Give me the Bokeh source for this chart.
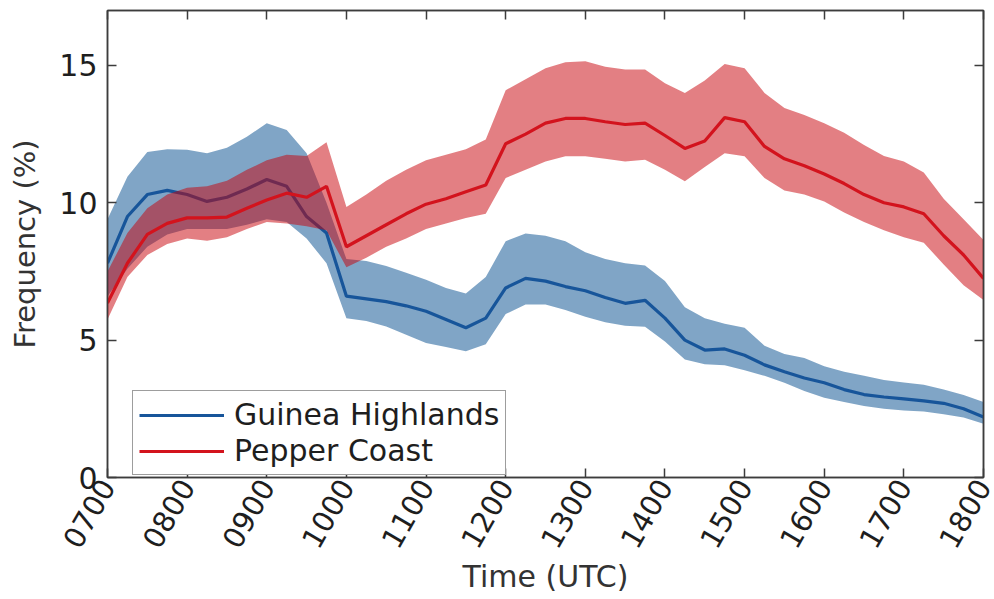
import math
from bokeh.plotting import figure
from bokeh.models import (ColumnDataSource, Range1d, FixedTicker, LinearAxis,
                          Legend, LegendItem)
from bokeh.embed import file_html
from bokeh.resources import INLINE

# Time of day in decimal hours (UTC), every 15 minutes from 0700 to 1800
times = [7.0 + 0.25 * i for i in range(45)]

# Guinea Highlands: mean frequency (%) and its uncertainty envelope
guinea_mean = [7.8, 9.5, 10.3, 10.45, 10.3, 10.05, 10.2, 10.5, 10.85, 10.6, 9.5, 8.9,
               6.6, 6.5, 6.4, 6.25, 6.05, 5.75, 5.45, 5.8, 6.9, 7.25, 7.15, 6.95,
               6.8, 6.55, 6.34, 6.45, 5.8, 5.0, 4.64, 4.68, 4.45, 4.1, 3.85, 3.62,
               3.45, 3.2, 3.02, 2.93, 2.86, 2.79, 2.7, 2.5, 2.2]
guinea_high = [9.4, 10.95, 11.85, 11.95, 11.93, 11.8, 12.0, 12.4, 12.9, 12.65, 11.8, 10.0,
               7.95, 7.88, 7.7, 7.45, 7.2, 6.9, 6.7, 7.3, 8.6, 8.88, 8.8, 8.6,
               8.2, 7.95, 7.8, 7.72, 7.15, 6.2, 5.8, 5.6, 5.45, 4.8, 4.5, 4.35,
               4.05, 3.85, 3.7, 3.55, 3.46, 3.38, 3.2, 3.0, 2.75]
guinea_low = [6.6, 7.6, 8.4, 8.85, 9.05, 9.05, 9.05, 9.2, 9.4, 9.3, 8.7, 7.8,
              5.8, 5.7, 5.5, 5.2, 4.9, 4.75, 4.6, 4.85, 5.95, 6.3, 6.3, 6.1,
              5.85, 5.65, 5.52, 5.49, 4.95, 4.3, 4.12, 4.09, 3.9, 3.7, 3.45, 3.15,
              2.9, 2.75, 2.6, 2.5, 2.44, 2.4, 2.3, 2.18, 1.96]

# Pepper Coast: mean frequency (%) and its uncertainty envelope
pepper_mean = [6.35, 7.8, 8.85, 9.25, 9.45, 9.45, 9.48, 9.8, 10.1, 10.35, 10.2, 10.6,
               8.4, 8.8, 9.2, 9.6, 9.95, 10.15, 10.4, 10.65, 12.15, 12.5, 12.9, 13.07,
               13.07, 12.95, 12.85, 12.9, 12.45, 11.98, 12.25, 13.1, 12.95, 12.05, 11.6, 11.35,
               11.05, 10.7, 10.3, 10.0, 9.85, 9.6, 8.8, 8.1, 7.25]
pepper_high = [7.5, 8.9, 9.8, 10.3, 10.55, 10.6, 10.8, 11.2, 11.55, 11.75, 11.7, 12.2,
               9.85, 10.3, 10.8, 11.2, 11.55, 11.75, 11.95, 12.3, 14.1, 14.5, 14.9, 15.12,
               15.15, 14.95, 14.85, 14.85, 14.35, 14.0, 14.45, 15.05, 14.9, 14.0, 13.45, 13.2,
               12.9, 12.55, 12.1, 11.7, 11.5, 11.1, 10.15, 9.4, 8.65]
pepper_low = [5.75, 7.3, 8.1, 8.5, 8.7, 8.62, 8.75, 9.05, 9.3, 9.25, 9.15, 9.0,
              7.65, 8.0, 8.4, 8.7, 9.05, 9.25, 9.45, 9.6, 10.9, 11.2, 11.5, 11.69,
              11.69, 11.6, 11.5, 11.57, 11.2, 10.78, 11.3, 11.8, 11.69, 10.9, 10.45, 10.3,
              10.05, 9.65, 9.3, 9.0, 8.75, 8.55, 7.75, 7.0, 6.46]

hour_ticks = [7, 8, 9, 10, 11, 12, 13, 14, 15, 16, 17, 18]
hour_labels = ["0700", "0800", "0900", "1000", "1100", "1200",
               "1300", "1400", "1500", "1600", "1700", "1800"]
freq_ticks = [0, 5, 10, 15]

X_START, X_END = 7, 18
Y_START, Y_END = 0, 17

FONT = "DejaVu Sans"
TEXT = "#1e1e1e"
LABEL = "#333333"
AXIS = "#3c3c3c"
TICK_LEN = 9

guinea = ColumnDataSource(dict(t=times, m=guinea_mean, lo=guinea_low, hi=guinea_high))
pepper = ColumnDataSource(dict(t=times, m=pepper_mean, lo=pepper_low, hi=pepper_high))

p = figure(width=994, height=599, output_backend="svg", toolbar_location=None,
           x_range=Range1d(X_START, X_END), y_range=Range1d(Y_START, Y_END),
           min_border_left=107, min_border_right=11,
           min_border_top=10, min_border_bottom=122)
p.background_fill_color = "white"
p.border_fill_color = "white"
p.outline_line_color = AXIS
p.outline_line_width = 1.5
p.grid.visible = False

# Envelopes and mean lines; Pepper Coast is drawn over Guinea Highlands
p.varea(x="t", y1="lo", y2="hi", source=guinea, fill_color="#024b8d", fill_alpha=0.5)
g_line = p.line(x="t", y="m", source=guinea, line_color="#17559a", line_width=3.2)
p.varea(x="t", y1="lo", y2="hi", source=pepper, fill_color="#c80008", fill_alpha=0.5)
r_line = p.line(x="t", y="m", source=pepper, line_color="#d3131d", line_width=3.2)


def style_axis(ax, show_labels):
    ax.axis_line_color = AXIS
    ax.axis_line_width = 1.5
    ax.major_tick_line_color = AXIS
    ax.major_tick_line_width = 1.5
    ax.major_tick_in = TICK_LEN
    ax.major_tick_out = 0
    ax.minor_tick_line_color = None
    if show_labels:
        ax.major_label_text_font = FONT
        ax.major_label_text_font_size = "30px"
        ax.major_label_text_color = TEXT
        ax.axis_label_text_font = FONT
        ax.axis_label_text_font_style = "normal"
        ax.axis_label_text_color = LABEL
    else:
        # ticks only: the tick labels are not painted at all
        ax.major_label_text_font_size = "0px"
        ax.major_label_text_color = None
        ax.major_label_standoff = 0


xa = p.xaxis[0]
xa.ticker = FixedTicker(ticks=hour_ticks)
xa.major_label_overrides = dict(zip(hour_ticks, hour_labels))
xa.axis_label = "Time (UTC)"
style_axis(xa, show_labels=True)
xa.major_label_text_font_size = "29px"
xa.major_label_orientation = math.radians(60)
xa.major_label_standoff = 4
xa.axis_label_text_font_size = "30px"
xa.axis_label_standoff = 0

ya = p.yaxis[0]
ya.ticker = FixedTicker(ticks=freq_ticks)
ya.axis_label = "Frequency (%)"
style_axis(ya, show_labels=True)
ya.axis_label_text_font_size = "29px"
ya.major_label_standoff = 10
ya.axis_label_standoff = 14

# Box on: matching inward ticks along the top and right edges
top = LinearAxis(ticker=FixedTicker(ticks=hour_ticks))
style_axis(top, show_labels=False)
p.add_layout(top, "above")
right = LinearAxis(ticker=FixedTicker(ticks=freq_ticks))
style_axis(right, show_labels=False)
p.add_layout(right, "right")

legend = Legend(items=[LegendItem(label="Guinea Highlands", renderers=[g_line]),
                       LegendItem(label="Pepper Coast", renderers=[r_line])],
                location=(25, 2))
legend.label_text_font = FONT
legend.label_text_font_size = "30px"
legend.label_text_color = TEXT
legend.glyph_width = 85
legend.glyph_height = 32
legend.label_height = 32
legend.label_standoff = 10
legend.spacing = 1
legend.padding = 6
legend.margin = 0
legend.border_line_color = AXIS
legend.border_line_width = 1.5
legend.background_fill_color = "white"
legend.background_fill_alpha = 1.0
p.add_layout(legend, "center")

open("out.html", "w").write(file_html(p, INLINE))
